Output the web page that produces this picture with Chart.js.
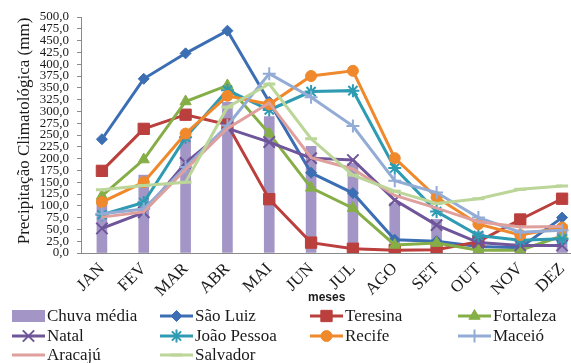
<!DOCTYPE html>
<html>
<head>
<meta charset="utf-8">
<script src="https://cdn.jsdelivr.net/npm/chart.js@4.4.1/dist/chart.umd.min.js"></script>
<style>
  html, body { margin: 0; padding: 0; background: #fff; width: 571px; height: 363px; overflow: hidden; }
  #wrap { position: absolute; left: 0; top: 0; width: 590px; height: 363px; }
  canvas { display: block; }
</style>
</head>
<body>
<div id="wrap"><canvas id="grafico" width="590" height="363" style="width:590px;height:363px"></canvas></div>
<script>
// Meses do ano (eixo X)
const meses = ['JAN', 'FEV', 'MAR', 'ABR', 'MAI', 'JUN', 'JUL', 'AGO', 'SET', 'OUT', 'NOV', 'DEZ'];

// Precipitação climatológica mensal (mm)
const chuvaMedia  = [115, 165, 247, 319, 289, 226, 190, 106, 71, 45, 42, 60];
const saoLuiz     = [241, 369, 423, 471, 320, 170, 127, 28, 25, 14, 11, 75];
const teresina    = [174, 263, 293, 272, 114, 22, 9, 6, 7, 24, 71, 115];
const fortaleza   = [121, 198, 321, 355, 253, 138, 95, 17, 21, 6, 6, 36];
const natal       = [52, 86, 191, 264, 235, 201, 197, 112, 59, 22, 16, 16];
const joaoPessoa  = [81, 107, 245, 345, 303, 342, 344, 180, 88, 37, 27, 30];
const recife      = [108, 150, 253, 333, 315, 375, 386, 201, 118, 61, 38, 54];
const maceio      = [83, 93, 182, 270, 380, 330, 269, 153, 128, 75, 44, 48];
const aracaju     = [76, 87, 177, 264, 318, 202, 178, 122, 95, 66, 55, 56];
const salvador    = [134, 143, 150, 309, 358, 242, 165, 131, 105, 115, 135, 142];

// Escala do eixo Y (mm)
const eixoYMin = 0;
const eixoYMax = 500;
const eixoYPasso = 25;

const SERIF = "'Liberation Serif', 'Times New Roman', serif";
const corBarra = '#A396C6';

const series = [
  { label: 'São Luiz',    data: saoLuiz,    color: '#3C6EB4', style: 'rectRot',  r: 5.5, bw: 1 },
  { label: 'Teresina',    data: teresina,   color: '#BA3F3D', style: 'rect',     r: 8,   bw: 1 },
  { label: 'Fortaleza',   data: fortaleza,  color: '#86AE47', style: 'triangle', r: 6.5, bw: 1 },
  { label: 'Natal',       data: natal,      color: '#6F559A', style: 'crossRot', r: 8,   bw: 2 },
  { label: 'João Pessoa', data: joaoPessoa, color: '#2E9BB3', style: 'star',     r: 6.5, bw: 2 },
  { label: 'Recife',      data: recife,     color: '#F0882C', style: 'circle',   r: 5.5, bw: 1 },
  { label: 'Maceió',      data: maceio,     color: '#92ACD6', style: 'cross',    r: 6.5, bw: 2 },
  { label: 'Aracajú',     data: aracaju,    color: '#DFA09D', style: 'circle',   r: 0,   bw: 0 },
  { label: 'Salvador',    data: salvador,   color: '#BBD698', style: 'line',     r: 6,   bw: 3 }
];

const datasets = [{
  type: 'bar',
  label: 'Chuva média',
  data: chuvaMedia,
  backgroundColor: corBarra,
  borderWidth: 0,
  barThickness: 10,
  order: 100
}].concat(series.map((s, i) => ({
  type: 'line',
  label: s.label,
  data: s.data,
  borderColor: s.color,
  backgroundColor: s.color,
  borderWidth: 3,
  tension: 0,
  pointStyle: s.style,
  pointRadius: s.r,
  pointHoverRadius: s.r,
  pointBorderWidth: s.bw,
  pointBackgroundColor: s.color,
  pointBorderColor: s.color,
  order: 50 - i
})));

// Legend marker shapes
function marcador(ctx, style, x, y, r, color, bw) {
  if (!r) return;
  ctx.save();
  ctx.fillStyle = color; ctx.strokeStyle = color; ctx.lineWidth = bw;
  ctx.beginPath();
  const s2 = Math.SQRT1_2;
  switch (style) {
    case 'rectRot':
      ctx.moveTo(x, y - r); ctx.lineTo(x + r, y); ctx.lineTo(x, y + r); ctx.lineTo(x - r, y); ctx.closePath();
      ctx.fill(); ctx.stroke(); break;
    case 'rect':
      ctx.rect(x - r * s2, y - r * s2, 2 * r * s2, 2 * r * s2); ctx.fill(); ctx.stroke(); break;
    case 'triangle': {
      const a = -Math.PI / 2;
      for (let k = 0; k < 3; k++) {
        const ang = a + k * 2 * Math.PI / 3;
        const px = x + Math.cos(ang) * r, py = y + Math.sin(ang) * r;
        k ? ctx.lineTo(px, py) : ctx.moveTo(px, py);
      }
      ctx.closePath(); ctx.fill(); ctx.stroke(); break;
    }
    case 'circle':
      ctx.arc(x, y, r, 0, Math.PI * 2); ctx.fill(); ctx.stroke(); break;
    case 'crossRot':
      ctx.moveTo(x - r * s2, y - r * s2); ctx.lineTo(x + r * s2, y + r * s2);
      ctx.moveTo(x - r * s2, y + r * s2); ctx.lineTo(x + r * s2, y - r * s2); ctx.stroke(); break;
    case 'cross':
      ctx.moveTo(x - r, y); ctx.lineTo(x + r, y); ctx.moveTo(x, y - r); ctx.lineTo(x, y + r); ctx.stroke(); break;
    case 'star':
      ctx.moveTo(x - r, y); ctx.lineTo(x + r, y); ctx.moveTo(x, y - r); ctx.lineTo(x, y + r);
      ctx.moveTo(x - r * s2, y - r * s2); ctx.lineTo(x + r * s2, y + r * s2);
      ctx.moveTo(x - r * s2, y + r * s2); ctx.lineTo(x + r * s2, y - r * s2); ctx.stroke(); break;
    case 'line':
      ctx.moveTo(x - r, y); ctx.lineTo(x + r, y); ctx.stroke(); break;
  }
  ctx.restore();
}

const decoracao = {
  id: 'decoracao',
  afterDraw(chart) {
    const ctx = chart.ctx;
    const area = chart.chartArea;
    ctx.save();
    ctx.fillStyle = '#1a1a1a';

    // Y axis title
    ctx.save();
    ctx.translate(25, (area.top + area.bottom) / 2 - 4);
    ctx.rotate(-Math.PI / 2);
    ctx.font = '17px ' + SERIF;
    ctx.textAlign = 'center';
    ctx.textBaseline = 'middle';
    ctx.fillText('Precipitação Climatológica (mm)', 0, 0);
    ctx.restore();

    // X axis title
    ctx.font = "bold 12px 'Liberation Sans', Arial, sans-serif";
    ctx.textAlign = 'left';
    ctx.textBaseline = 'middle';
    ctx.fillText('meses', 308, 298);

    // Legend (4 columns)
    const cols = [12, 160, 310, 458];
    const rows = [316, 336, 355];
    const itens = [{ label: 'Chuva média', bar: true }].concat(series);
    ctx.font = '17px ' + SERIF;
    itens.forEach((it, i) => {
      const x0 = cols[i % 4];
      const y0 = rows[Math.floor(i / 4)];
      if (it.bar) {
        ctx.fillStyle = corBarra;
        ctx.fillRect(x0, y0 - 6, 33, 12);
      } else {
        ctx.save();
        ctx.strokeStyle = it.color;
        ctx.lineWidth = 3;
        ctx.beginPath();
        ctx.moveTo(x0, y0); ctx.lineTo(x0 + 33, y0);
        ctx.stroke();
        ctx.restore();
        marcador(ctx, it.style, x0 + 16.5, y0, it.r, it.color, it.bw);
      }
      ctx.fillStyle = '#1a1a1a';
      ctx.textBaseline = 'middle';
      ctx.fillText(it.label, x0 + 35, y0 + 1);
    });
    ctx.restore();
  }
};

new Chart(document.getElementById('grafico'), {
  type: 'bar',
  data: { labels: meses, datasets: datasets },
  plugins: [decoracao],
  options: {
    responsive: false,
    animation: false,
    devicePixelRatio: 1,
    layout: { autoPadding: false, padding: { left: 0, right: 7, top: 17, bottom: 60 } },
    plugins: { legend: { display: false }, tooltip: { enabled: false } },
    scales: {
      x: {
        offset: true,
        grid: { display: true, drawOnChartArea: false, drawTicks: false, color: '#8a8a8a' },
        border: { display: true, color: '#8a8a8a', width: 1 },
        ticks: {
          minRotation: 45, maxRotation: 45, autoSkip: false, padding: 6,
          color: '#1a1a1a', font: { family: SERIF, size: 17 }
        },
        afterFit(scale) { scale.height = 50; }
      },
      y: {
        min: eixoYMin, max: eixoYMax,
        grid: { display: true, drawOnChartArea: false, drawTicks: true, tickLength: 4, color: '#8a8a8a' },
        border: { display: true, color: '#8a8a8a', width: 1 },
        ticks: {
          stepSize: eixoYPasso, autoSkip: false, maxTicksLimit: 100, padding: 8,
          color: '#1a1a1a', font: { family: SERIF, size: 13 },
          callback: v => v.toFixed(1).replace('.', ',')
        },
        afterFit(scale) { scale.width = 81; }
      }
    }
  }
});
</script>
</body>
</html>
